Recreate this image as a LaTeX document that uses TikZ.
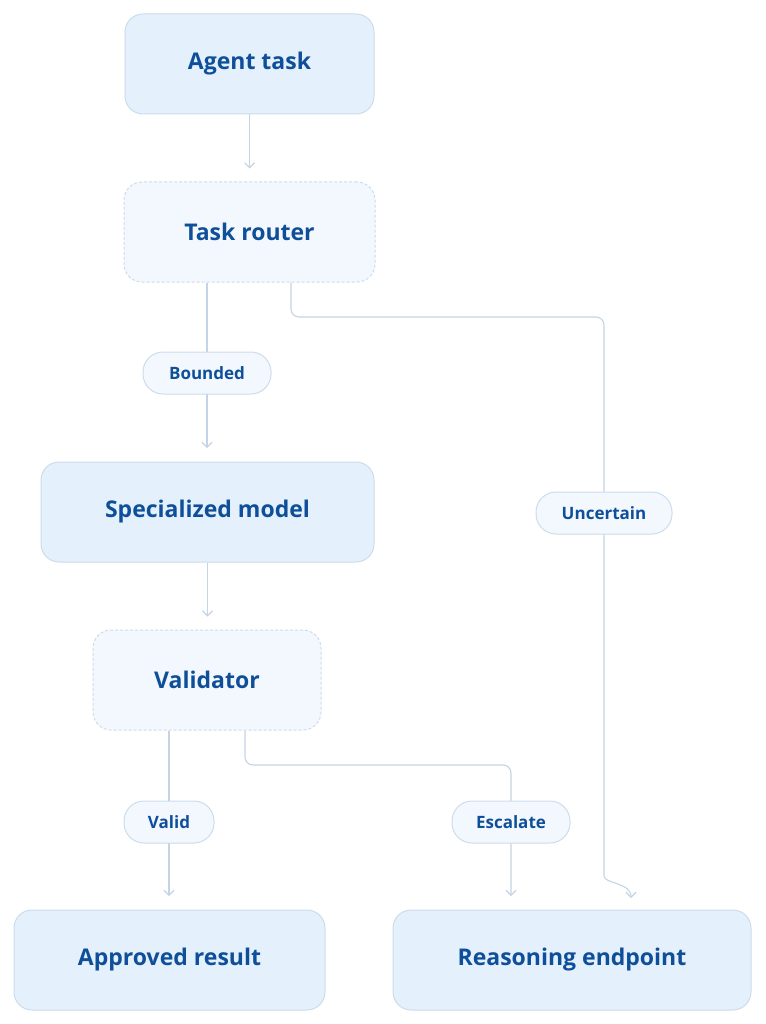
\documentclass[tikz,border=0pt]{standalone}
\usepackage{fontspec}
\setmainfont{Open Sans}
\usetikzlibrary{arrows.meta}
\definecolor{txt}{HTML}{0F4F9A}
\definecolor{fillA}{HTML}{E4F0FC}
\definecolor{fillB}{HTML}{F3F8FE}
\definecolor{bord}{HTML}{CCDCEB}
\definecolor{ln}{HTML}{C3D4E5}
\tikzset{
 box/.style={draw=bord,fill=fillA,rounded corners=18pt,line width=1pt,text=txt,font=\fontsize{23}{27}\selectfont\bfseries,inner sep=0pt,minimum height=100pt},
 dbox/.style={box,fill=fillB,dash pattern=on 3pt off 2pt},
 lbl/.style={draw=bord,fill=fillB,rounded corners=20pt,line width=1pt,text=txt,font=\fontsize{17}{20}\selectfont\bfseries,inner sep=0pt,minimum height=42pt},
 conn/.style={draw=ln,line width=1.1pt,rounded corners=8pt,-{Straight Barb[length=5pt,width=10pt]}},
 seg/.style={draw=ln,line width=1.1pt,rounded corners=8pt}
}
\begin{document}
\begin{tikzpicture}[x=1pt,y=-1pt]
\useasboundingbox (0,0) rectangle (765,1024);
\node[box,minimum width=249pt] (agent) at (249.5,64) {Agent task};
\node[dbox,minimum width=251pt] (router) at (249.5,232) {Task router};
\node[box,minimum width=333pt] (spec) at (207.5,512) {Specialized model};
\node[dbox,minimum width=228pt] (val) at (207,680) {Validator};
\node[box,minimum width=311pt] (appr) at (169.5,960) {Approved result};
\node[box,minimum width=358pt] (reas) at (572,960) {Reasoning endpoint};
\coordinate (c1) at (291,317);
\coordinate (c2) at (604,317);
\coordinate (c3) at (245,765);
\coordinate (c4) at (511,765);
\draw[conn] (agent.south) -- ++(0,54);
\draw[seg] (router.south -| 207,0) -- (207,373);
\draw[conn] (207,373) -- ++(0,75);
\node[lbl,minimum width=128pt] (bounded) at (207,373) {Bounded};
\draw[conn] (spec.south) -- ++(0,54);
\draw[seg] (val.south -| 169,0) -- (169,822);
\draw[conn] (169,822) -- ++(0,74);
\node[lbl,minimum width=90pt] (valid) at (169,822) {Valid};
\draw[conn] (router.south -| c1) -- (c1) -- (c2) -- (604,868) to[out=-90,in=90] (631,898);
\node[lbl,minimum width=136pt] (unc) at (604,513) {Uncertain};
\draw[conn] (val.south -| c3) -- (c3) -- (c4) -- (511,896);
\node[lbl,minimum width=118pt] (esc) at (511,822) {Escalate};
\end{tikzpicture}
\end{document}
